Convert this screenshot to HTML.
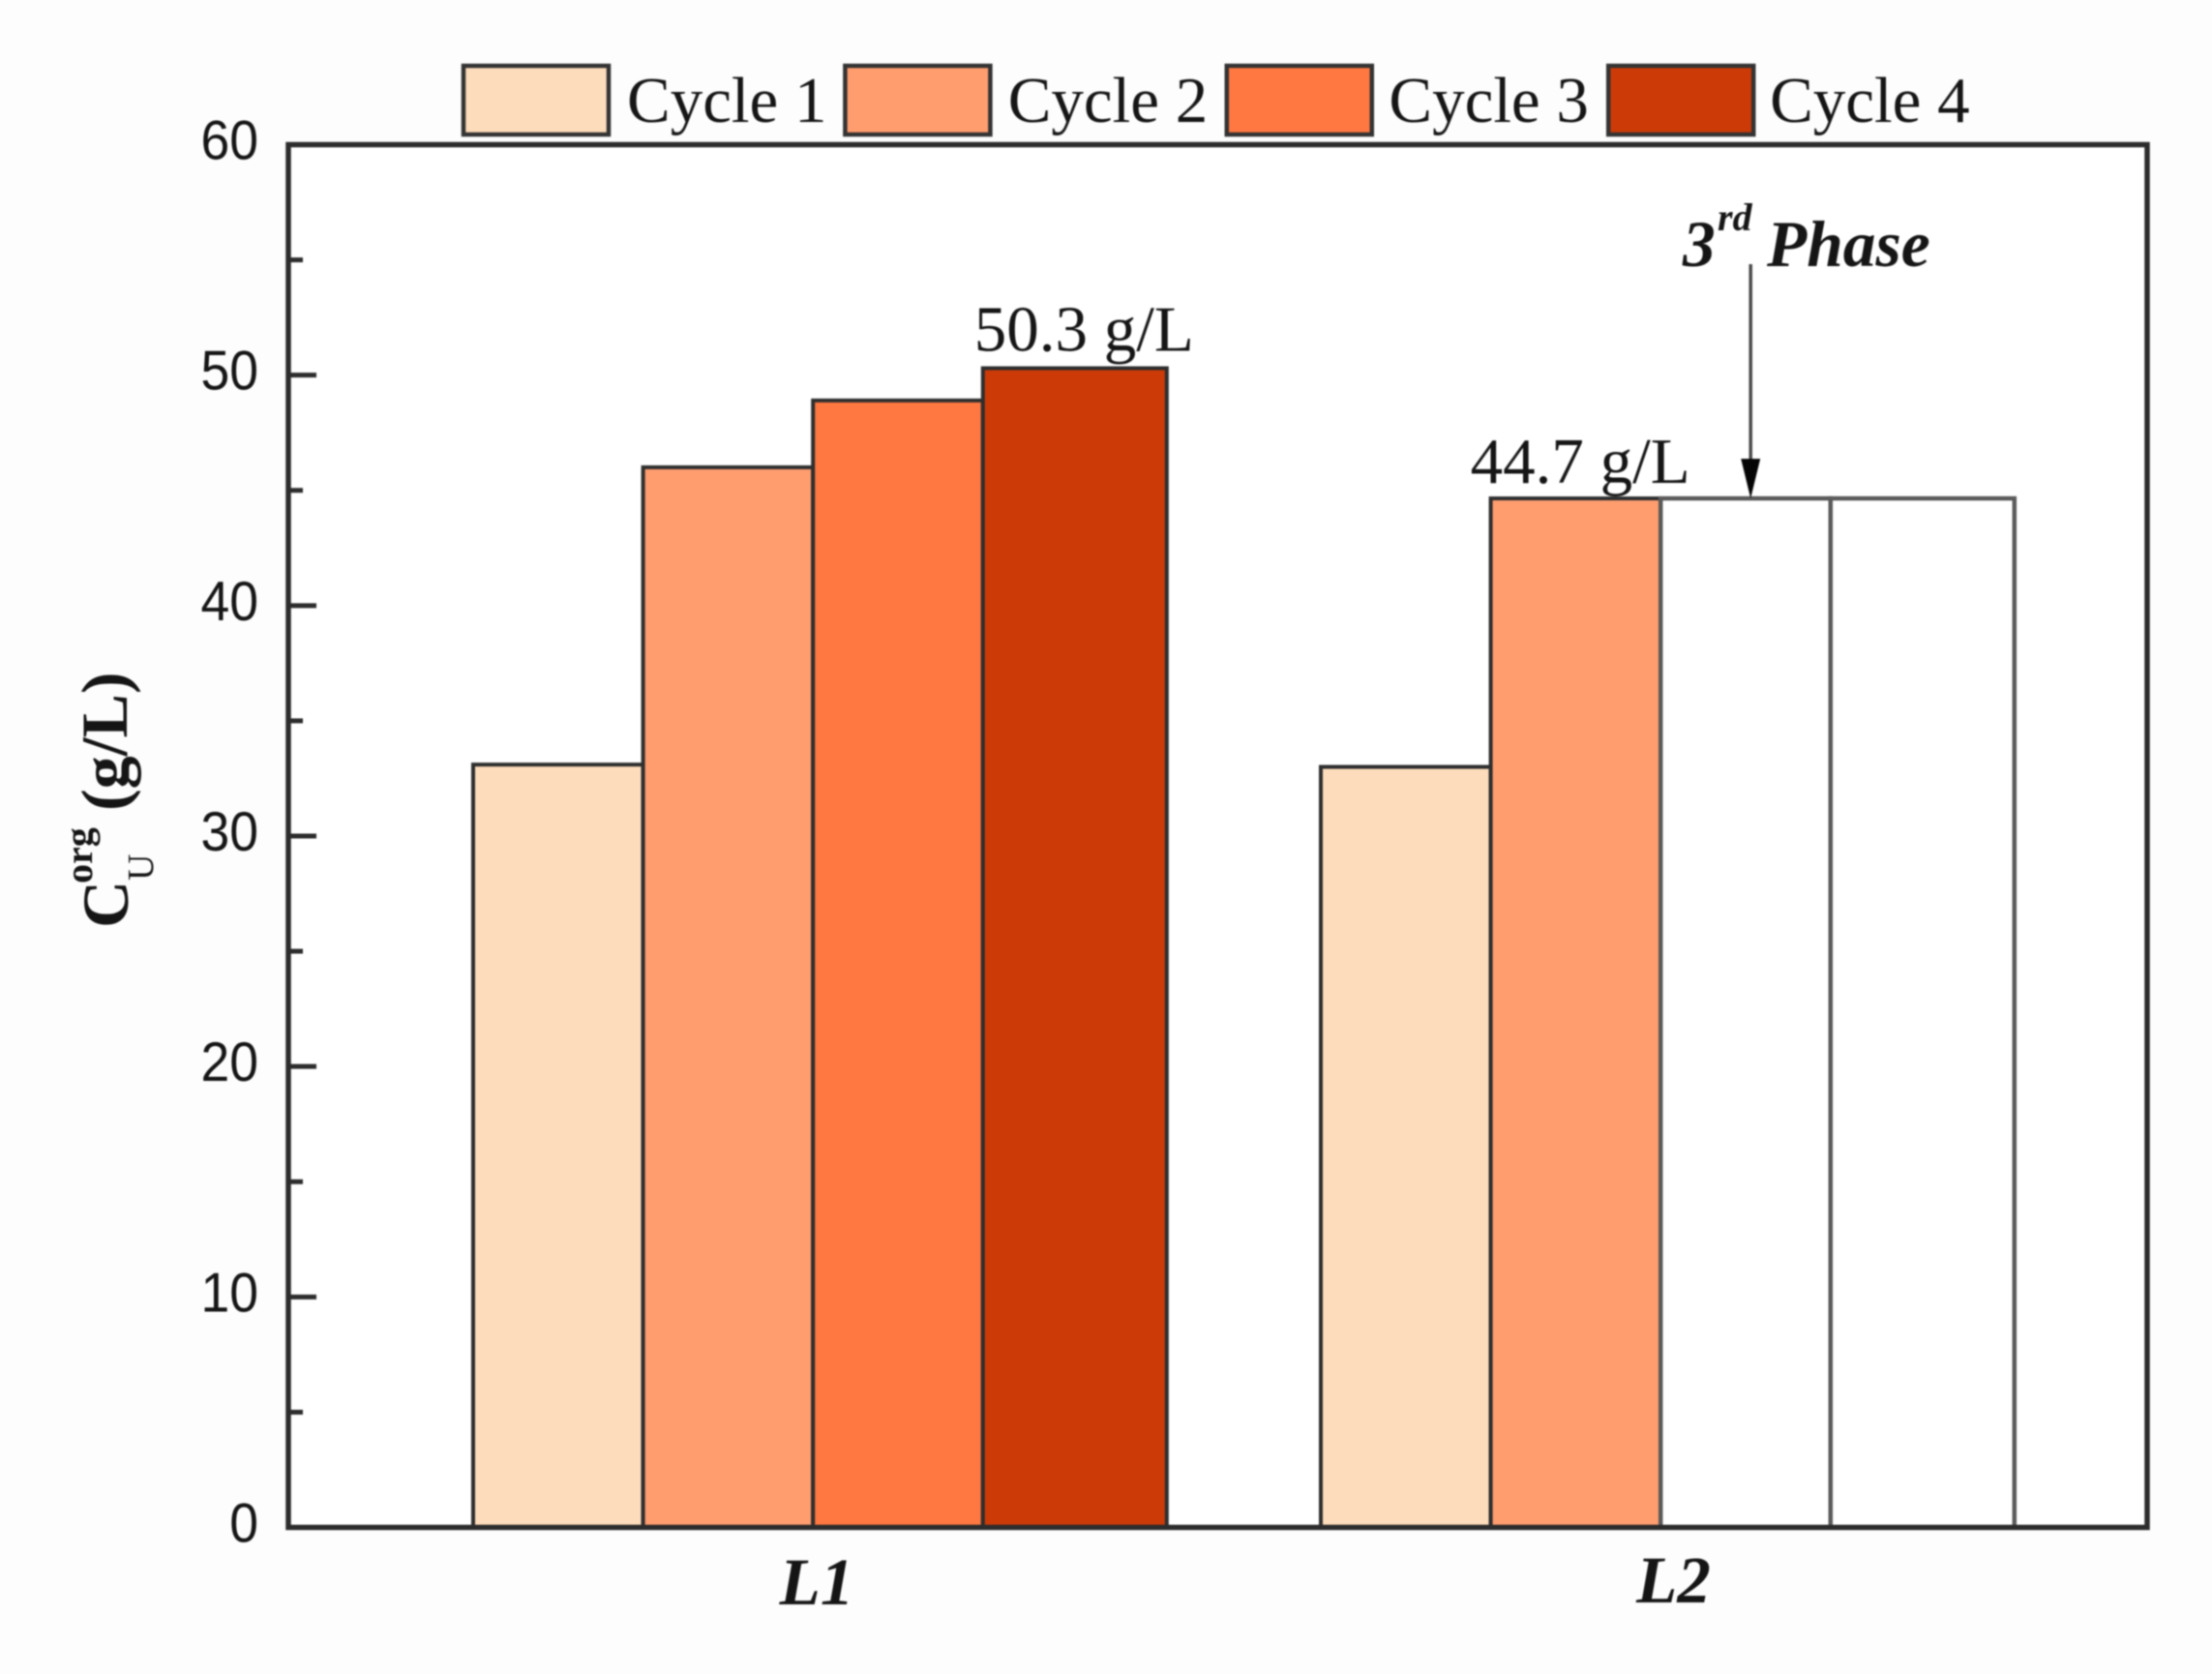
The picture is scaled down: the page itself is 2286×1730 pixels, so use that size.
<!DOCTYPE html>
<html lang="en">
<head>
<meta charset="utf-8">
<title>Uranium organic phase concentration by cycle</title>
<style>
  html, body { margin: 0; padding: 0; background: #fdfdfd; }
  body { width: 2286px; height: 1730px; overflow: hidden; }
  svg { display: block; filter: blur(0.9px); }
  .serif { font-family: "Liberation Serif", serif; fill: #151515; }
  .sans { font-family: "Liberation Sans", sans-serif; fill: #151515; }
</style>
</head>
<body>
<svg id="chart" xmlns="http://www.w3.org/2000/svg" width="2286" height="1730" viewBox="0 0 2286 1730">
  <rect x="0" y="0" width="2286" height="1730" fill="#fdfdfd"/>
  <rect x="298" y="149.5" width="1921" height="1429" fill="#ffffff"/>
  <g id="bars"></g>
  <g id="axes"></g>
  <g id="labels"></g>
  <g id="legend"></g>
  <text class="serif" transform="translate(132,959) rotate(-90)" font-weight="bold" font-size="68" fill="#0c0c0c"><tspan x="0" y="0">C</tspan><tspan x="46" y="-37" font-size="40">org</tspan><tspan x="49" y="26" font-size="38" font-weight="normal">U</tspan><tspan x="121" y="-1">(g/L)</tspan></text>
  <text class="serif" y="275" font-weight="bold" font-style="italic" font-size="67.5" fill="#0c0c0c"><tspan x="1739" y="275">3</tspan><tspan x="1775" y="238" font-size="40">rd</tspan><tspan x="1826" y="275">Phase</tspan></text>
</svg>
<script>
const categories = ['L1', 'L2'];
const seriesNames = ['Cycle 1', 'Cycle 2', 'Cycle 3', 'Cycle 4'];
const cycle1Values = [33.1, 33.0];
const cycle2Values = [46.0, 44.65];
const cycle3Values = [48.9, 44.65];
const cycle4Values = [50.3, 44.65];
const majorTickValues = [0, 10, 20, 30, 40, 50, 60];
const majorTickLabels = ['0', '10', '20', '30', '40', '50', '60'];
const minorTickValues = [5, 15, 25, 35, 45, 55];
const seriesColors = ['#fddcbb', '#ff9d6f', '#ff7841', '#cc3a08'];
const hollowL2Series = ['Cycle 3', 'Cycle 4'];
const printedLabels = ['50.3 g/L', '44.7 g/L'];

const NS = 'http://www.w3.org/2000/svg';
const plot = { left: 298, right: 2219, top: 149.5, bottom: 1578.5 };
const yMin = 0, yMax = 60;
function yScale(v) { return plot.bottom - (v - yMin) / (yMax - yMin) * (plot.bottom - plot.top); }
function groupLeft(i) { return 489 + i * 876; }
function barLeft(i, j) { return groupLeft(i) + j * 175.6; }
function barWidth(j) { return j === seriesNames.length - 1 ? 190 : 175.6; }
function categoryCenter(i) { return 844 + i * 885.5; }
function mk(tag, attrs, parent) {
  const el = document.createElementNS(NS, tag);
  Object.keys(attrs).forEach(function (k) { el.setAttribute(k, attrs[k]); });
  parent.appendChild(el);
  return el;
}

const barsG = document.getElementById('bars');
const axesG = document.getElementById('axes');
const labelsG = document.getElementById('labels');
const legendG = document.getElementById('legend');
const allSeries = [cycle1Values, cycle2Values, cycle3Values, cycle4Values];

/* bars */
categories.forEach(function (cat, i) {
  allSeries.forEach(function (values, j) {
    const hollow = i === 1 && hollowL2Series.indexOf(seriesNames[j]) >= 0;
    const y = yScale(values[i]);
    const bar = mk('rect', {
      x: barLeft(i, j), y: y, width: barWidth(j), height: yScale(0) - y,
      fill: hollow ? '#ffffff' : seriesColors[j],
      stroke: hollow ? '#5a5a5a' : '#2e2e2e',
      'stroke-width': hollow ? 4.5 : 4
    }, barsG);
    
    
  });
});

/* axes frame */
const frame = mk('rect', {
  x: plot.left, y: plot.top, width: plot.right - plot.left, height: plot.bottom - plot.top,
  fill: 'none', stroke: '#2c2c2c', 'stroke-width': 5.5
}, axesG);



/* y ticks */
majorTickValues.forEach(function (v, i) {
  const y = yScale(v);
  const tick = mk('line', {
    x1: plot.left, x2: plot.left + 29, y1: y, y2: y, stroke: '#2c2c2c', 'stroke-width': 5
  }, axesG);
  
  
  const label = mk('text', {
    transform: 'translate(267,' + (y + 15) + ') scale(1,1.07)',
    'text-anchor': 'end', 'font-size': 53.5, class: 'sans'
  }, axesG);
  label.textContent = majorTickLabels[i];
  
  
});
minorTickValues.forEach(function (v) {
  const y = yScale(v);
  const tick = mk('line', {
    x1: plot.left, x2: plot.left + 15, y1: y, y2: y, stroke: '#2c2c2c', 'stroke-width': 5
  }, axesG);
  
  
});

/* category labels */
categories.forEach(function (cat, i) {
  const label = mk('text', {
    x: categoryCenter(i), y: 1658 - i * 2, 'text-anchor': 'middle',
    'font-size': 69, 'font-weight': 'bold', 'font-style': 'italic', class: 'serif'
  }, axesG);
  label.textContent = cat;
  
  
});

/* printed value labels, anchored to the bars they describe */
const l1Label = mk('text', {
  x: barLeft(0, 3) - 9, y: yScale(cycle4Values[0]) - 18, 'font-size': 67, class: 'serif'
}, labelsG);
l1Label.textContent = printedLabels[0];



const l2Label = mk('text', {
  x: barLeft(1, 1) - 21, y: yScale(cycle2Values[1]) - 16, 'font-size': 67, class: 'serif'
}, labelsG);
l2Label.textContent = printedLabels[1];



/* annotation arrow points at top of the L2 Cycle 3 bar */
const arrowX = barLeft(1, 2) + 93;
const arrowTipY = yScale(cycle3Values[1]);
const arrowLine = mk('line', {
  x1: arrowX, x2: arrowX, y1: 273, y2: arrowTipY - 30, stroke: '#4a4a4a', 'stroke-width': 3.5
}, labelsG);


const arrowHead = mk('polygon', {
  points: (arrowX - 10) + ',' + (arrowTipY - 41) + ' ' + (arrowX + 10) + ',' + (arrowTipY - 41) + ' ' + arrowX + ',' + arrowTipY,
  fill: '#050505'
}, labelsG);



/* legend */
seriesNames.forEach(function (name, j) {
  const left = 479 + j * 394.4;
  const swatch = mk('rect', {
    x: left, y: 68, width: 150, height: 71,
    fill: seriesColors[j], stroke: '#333333', 'stroke-width': 4.5
  }, legendG);
  
  
  const label = mk('text', {
    x: 648 + j * 393.7, y: 126, 'font-size': 67, class: 'serif'
  }, legendG);
  label.textContent = name;
  
  
});
</script>
</body>
</html>
